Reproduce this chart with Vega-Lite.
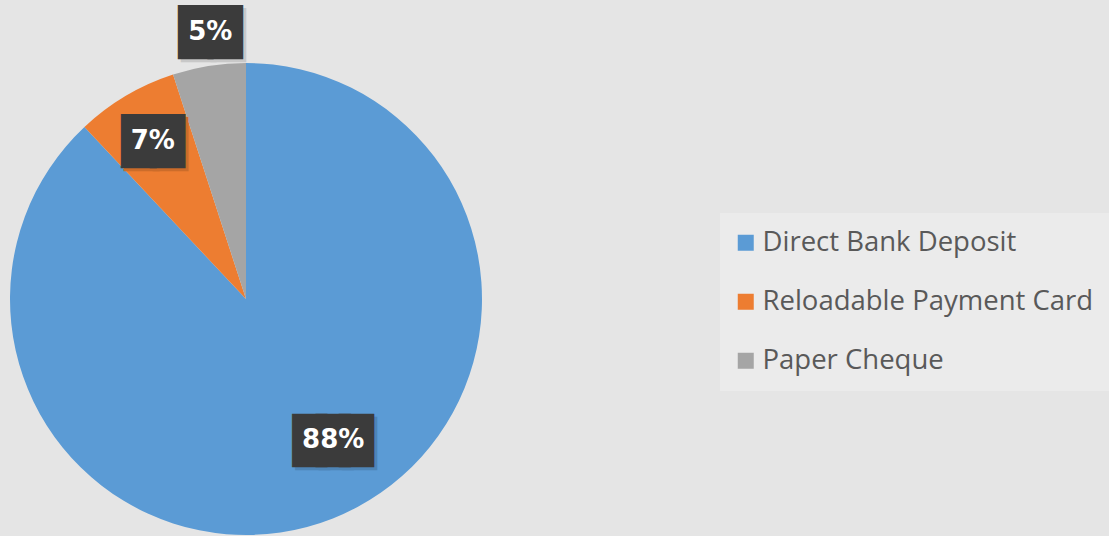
{
  "$schema": "https://vega.github.io/schema/vega-lite/v6.json",
  "width": 492,
  "height": 598,
  "autosize": {"type": "none"},
  "padding": {"left": 0, "top": 0, "right": 617, "bottom": -62},
  "background": "#e5e5e5",
  "config": {"view": {"stroke": null}},
  "data": {
    "values": [
      {"method": "Direct Bank Deposit", "share": 0.88},
      {"method": "Reloadable Payment Card", "share": 0.07},
      {"method": "Paper Cheque", "share": 0.05}
    ]
  },
  "encoding": {
    "theta": {"field": "share", "type": "quantitative", "stack": true},
    "order": {"field": "share", "sort": "descending"},
    "color": {
      "field": "method",
      "type": "nominal",
      "sort": ["Direct Bank Deposit", "Reloadable Payment Card", "Paper Cheque"],
      "scale": {
        "domain": ["Direct Bank Deposit", "Reloadable Payment Card", "Paper Cheque"],
        "range": ["#5b9bd5", "#ed7d31", "#a5a5a5"]
      },
      "legend": {
        "orient": "none",
        "legendX": 720,
        "legendY": 213,
        "title": null,
        "padding": 16,
        "fillColor": "#ebebeb",
        "symbolType": "square",
        "symbolSize": 256,
        "symbolStrokeWidth": 0,
        "symbolOffset": -4,
        "labelOffset": 3,
        "labelFont": "Open Sans",
        "labelFontSize": 27.5,
        "labelColor": "#595959",
        "rowPadding": 30,
        "labelLimit": 600
      }
    }
  },
  "layer": [
    {"mark": {"type": "arc", "outerRadius": 236}},

    {"mark": {"type": "text", "text": "█", "font": "DejaVu Sans", "fontSize": 45.5, "radius": 269, "thetaOffset": 0.024, "baseline": "middle", "align": "center", "dx": -11.8, "dy": 5},
     "encoding": {"fill": {"value": "#c8c8c8"}, "opacity": {"condition": {"test": "datum.method === 'Paper Cheque'", "value": 1}, "value": 0}}},
    {"mark": {"type": "text", "text": "█", "font": "DejaVu Sans", "fontSize": 45.5, "radius": 269, "thetaOffset": 0.024, "baseline": "middle", "align": "center", "dx": 17.8, "dy": 5},
     "encoding": {"fill": {"value": "#c8c8c8"}, "opacity": {"condition": {"test": "datum.method === 'Paper Cheque'", "value": 1}, "value": 0}}},
    {"mark": {"type": "text", "text": "█", "font": "DejaVu Sans", "fontSize": 45.5, "radius": 269, "thetaOffset": 0.024, "baseline": "middle", "align": "center", "dx": -14.8, "dy": 2},
     "encoding": {"fill": {"value": "#3b3b3b"}, "opacity": {"condition": {"test": "datum.method === 'Paper Cheque'", "value": 1}, "value": 0}}},
    {"mark": {"type": "text", "text": "█", "font": "DejaVu Sans", "fontSize": 45.5, "radius": 269, "thetaOffset": 0.024, "baseline": "middle", "align": "center", "dx": 14.8, "dy": 2},
     "encoding": {"fill": {"value": "#3b3b3b"}, "opacity": {"condition": {"test": "datum.method === 'Paper Cheque'", "value": 1}, "value": 0}}},

    {"mark": {"type": "text", "text": "█", "font": "DejaVu Sans", "fontSize": 45.5, "radius": 183, "baseline": "middle", "align": "center", "dx": -11.3, "dy": 5},
     "encoding": {"fill": {"value": "#cc6c2a"}, "opacity": {"condition": {"test": "datum.method === 'Reloadable Payment Card'", "value": 1}, "value": 0}}},
    {"mark": {"type": "text", "text": "█", "font": "DejaVu Sans", "fontSize": 45.5, "radius": 183, "baseline": "middle", "align": "center", "dx": 17.3, "dy": 5},
     "encoding": {"fill": {"value": "#cc6c2a"}, "opacity": {"condition": {"test": "datum.method === 'Reloadable Payment Card'", "value": 1}, "value": 0}}},
    {"mark": {"type": "text", "text": "█", "font": "DejaVu Sans", "fontSize": 45.5, "radius": 183, "baseline": "middle", "align": "center", "dx": -14.3, "dy": 2},
     "encoding": {"fill": {"value": "#3b3b3b"}, "opacity": {"condition": {"test": "datum.method === 'Reloadable Payment Card'", "value": 1}, "value": 0}}},
    {"mark": {"type": "text", "text": "█", "font": "DejaVu Sans", "fontSize": 45.5, "radius": 183, "baseline": "middle", "align": "center", "dx": 14.3, "dy": 2},
     "encoding": {"fill": {"value": "#3b3b3b"}, "opacity": {"condition": {"test": "datum.method === 'Reloadable Payment Card'", "value": 1}, "value": 0}}},

    {"mark": {"type": "text", "text": "█", "font": "DejaVu Sans", "fontSize": 45, "radius": 166, "thetaOffset": -0.176, "baseline": "middle", "align": "center", "dx": -20.3, "dy": 5},
     "encoding": {"fill": {"value": "#4e85b7"}, "opacity": {"condition": {"test": "datum.method === 'Direct Bank Deposit'", "value": 1}, "value": 0}}},
    {"mark": {"type": "text", "text": "█", "font": "DejaVu Sans", "fontSize": 45, "radius": 166, "thetaOffset": -0.176, "baseline": "middle", "align": "center", "dx": 3, "dy": 5},
     "encoding": {"fill": {"value": "#4e85b7"}, "opacity": {"condition": {"test": "datum.method === 'Direct Bank Deposit'", "value": 1}, "value": 0}}},
    {"mark": {"type": "text", "text": "█", "font": "DejaVu Sans", "fontSize": 45, "radius": 166, "thetaOffset": -0.176, "baseline": "middle", "align": "center", "dx": 26.3, "dy": 5},
     "encoding": {"fill": {"value": "#4e85b7"}, "opacity": {"condition": {"test": "datum.method === 'Direct Bank Deposit'", "value": 1}, "value": 0}}},
    {"mark": {"type": "text", "text": "█", "font": "DejaVu Sans", "fontSize": 45, "radius": 166, "thetaOffset": -0.176, "baseline": "middle", "align": "center", "dx": -23.3, "dy": 2},
     "encoding": {"fill": {"value": "#3b3b3b"}, "opacity": {"condition": {"test": "datum.method === 'Direct Bank Deposit'", "value": 1}, "value": 0}}},
    {"mark": {"type": "text", "text": "█", "font": "DejaVu Sans", "fontSize": 45, "radius": 166, "thetaOffset": -0.176, "baseline": "middle", "align": "center", "dx": 0, "dy": 2},
     "encoding": {"fill": {"value": "#3b3b3b"}, "opacity": {"condition": {"test": "datum.method === 'Direct Bank Deposit'", "value": 1}, "value": 0}}},
    {"mark": {"type": "text", "text": "█", "font": "DejaVu Sans", "fontSize": 45, "radius": 166, "thetaOffset": -0.176, "baseline": "middle", "align": "center", "dx": 23.3, "dy": 2},
     "encoding": {"fill": {"value": "#3b3b3b"}, "opacity": {"condition": {"test": "datum.method === 'Direct Bank Deposit'", "value": 1}, "value": 0}}},

    {
      "mark": {"type": "text", "radius": 269, "thetaOffset": 0.024, "font": "DejaVu Sans", "fontSize": 26, "fontWeight": "bold", "baseline": "middle", "align": "center"},
      "encoding": {
        "text": {"field": "share", "type": "quantitative", "format": ".0%"},
        "fill": {"value": "#ffffff"},
        "opacity": {"condition": {"test": "datum.method === 'Paper Cheque'", "value": 1}, "value": 0}
      }
    },
    {
      "mark": {"type": "text", "radius": 183, "font": "DejaVu Sans", "fontSize": 26, "fontWeight": "bold", "baseline": "middle", "align": "center"},
      "encoding": {
        "text": {"field": "share", "type": "quantitative", "format": ".0%"},
        "fill": {"value": "#ffffff"},
        "opacity": {"condition": {"test": "datum.method === 'Reloadable Payment Card'", "value": 1}, "value": 0}
      }
    },
    {
      "mark": {"type": "text", "radius": 166, "thetaOffset": -0.176, "font": "DejaVu Sans", "fontSize": 26, "fontWeight": "bold", "baseline": "middle", "align": "center"},
      "encoding": {
        "text": {"field": "share", "type": "quantitative", "format": ".0%"},
        "fill": {"value": "#ffffff"},
        "opacity": {"condition": {"test": "datum.method === 'Direct Bank Deposit'", "value": 1}, "value": 0}
      }
    }
  ]
}
